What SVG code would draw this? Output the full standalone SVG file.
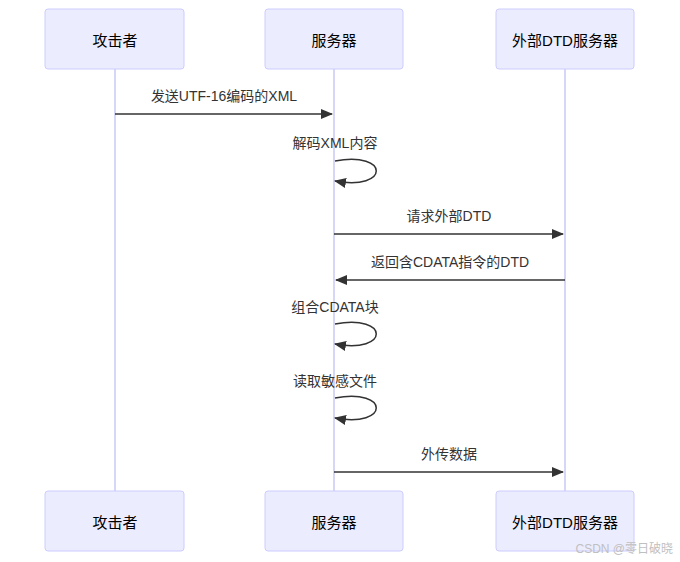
<svg xmlns="http://www.w3.org/2000/svg" width="680" height="562" viewBox="0 0 680 562">
<style>
.actor{fill:#ECECFF;stroke:#CCCCFF;stroke-width:1}
.atext{font-family:"Liberation Sans","Noto Sans CJK SC",sans-serif;font-size:15px;fill:#000;text-anchor:middle;dominant-baseline:central}
.life{stroke:#C8C8F5;stroke-width:1.5}
.msg{stroke:#333;stroke-width:1.5;fill:none}
.mtext{font-family:"Liberation Sans","Noto Sans CJK SC",sans-serif;font-size:14px;fill:#333;text-anchor:middle}
</style>
<defs>
<marker id="arr" viewBox="0 0 12 10" refX="11" refY="5" markerWidth="12" markerHeight="10" markerUnits="userSpaceOnUse" orient="auto">
<path d="M0,0 L12,5 L0,10 z" fill="#333"/>
</marker>
</defs>
<rect width="680" height="562" fill="#fff"/>
<g id="lifelines">
<line class="life" x1="115" y1="69" x2="115" y2="491"/>
<line class="life" x1="334" y1="69" x2="334" y2="491"/>
<line class="life" x1="565" y1="69" x2="565" y2="491"/>
</g>
<g id="actor-attacker-top"><rect class="actor" x="45" y="9" width="139" height="60" rx="3"/><text class="atext" x="115" y="40">攻击者</text></g>
<g id="actor-server-top"><rect class="actor" x="265" y="9" width="138" height="60" rx="3"/><text class="atext" x="334" y="40">服务器</text></g>
<g id="actor-dtd-top"><rect class="actor" x="496" y="9" width="138" height="60" rx="3"/><text class="atext" x="565" y="40">外部DTD服务器</text></g>
<g id="actor-attacker-bottom"><rect class="actor" x="45" y="491" width="139" height="60" rx="3"/><text class="atext" x="115" y="522">攻击者</text></g>
<g id="actor-server-bottom"><rect class="actor" x="265" y="491" width="138" height="60" rx="3"/><text class="atext" x="334" y="522">服务器</text></g>
<g id="actor-dtd-bottom"><rect class="actor" x="496" y="491" width="138" height="60" rx="3"/><text class="atext" x="565" y="522">外部DTD服务器</text></g>
<g id="connectors">
<line class="msg" x1="115" y1="114" x2="332" y2="114" marker-end="url(#arr)"/>
<text class="mtext" x="224" y="101">发送UTF-16编码的XML</text>
<path class="msg" d="M335,161 C390,151 390,191 335,181" marker-end="url(#arr)"/>
<text class="mtext" x="335" y="148">解码XML内容</text>
<line class="msg" x1="334" y1="234" x2="563" y2="234" marker-end="url(#arr)"/>
<text class="mtext" x="449" y="221">请求外部DTD</text>
<line class="msg" x1="565" y1="280" x2="336" y2="280" marker-end="url(#arr)"/>
<text class="mtext" x="450" y="267">返回含CDATA指令的DTD</text>
<path class="msg" d="M335,324 C390,314 390,354 335,344" marker-end="url(#arr)"/>
<text class="mtext" x="335" y="312">组合CDATA块</text>
<path class="msg" d="M335,398 C390,388 390,428 335,418" marker-end="url(#arr)"/>
<text class="mtext" x="335" y="386">读取敏感文件</text>
<line class="msg" x1="334" y1="472" x2="563" y2="472" marker-end="url(#arr)"/>
<text class="mtext" x="449" y="459">外传数据</text>
</g>
<text x="673" y="553" font-family="Liberation Sans,'Noto Sans CJK SC',sans-serif" font-size="12" fill="#c0c0c0" text-anchor="end">CSDN @零日破晓</text>
</svg>
